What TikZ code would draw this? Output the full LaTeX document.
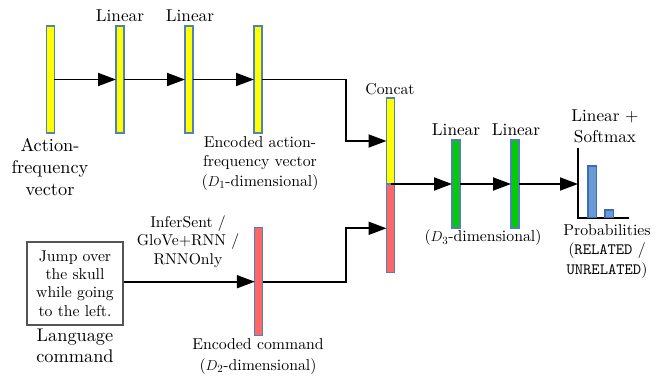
\documentclass[tikz,border=0pt]{standalone}
\usepackage{fontspec}
\setmainfont{lmroman10-regular.otf}[ItalicFont=lmroman10-italic.otf, BoldFont=lmroman10-bold.otf]
\setmonofont{lmmono10-regular.otf}
\usetikzlibrary{arrows.meta}
\definecolor{barborder}{HTML}{4F81BD}
\definecolor{ybarfill}{HTML}{FFFF00}
\definecolor{rbarfill}{HTML}{FF6666}
\definecolor{gbarfill}{HTML}{00CC00}
\definecolor{pbarfill}{HTML}{6A9AD6}
\definecolor{pbarborder}{HTML}{3C6EB4}
\definecolor{boxborder}{HTML}{555555}
\tikzset{
  vbar/.style={draw=barborder, line width=1.2pt, minimum width=8pt, inner sep=0pt, outer sep=0pt},
  ybar/.style={vbar, fill=ybarfill},
  rbar/.style={vbar, fill=rbarfill},
  gbar/.style={vbar, fill=gbarfill},
  conn/.style={line width=1.8pt, -{Triangle[length=18pt,width=13pt]}},
  lbl/.style={align=center, inner sep=0pt, font=\fontsize{15.8}{19.5}\selectfont},
  biglbl/.style={align=center, inner sep=0pt, font=\fontsize{18.3}{22}\selectfont},
  linlbl/.style={align=center, inner sep=0pt, font=\fontsize{17.2}{21}\selectfont},
}
\begin{document}
\begin{tikzpicture}[x=1pt,y=-1pt]
\useasboundingbox (0,0) rectangle (663,377);
% top row bars
\node[ybar, minimum height=107pt] (b1) at (50.3,79.5) {};
\node[ybar, minimum height=107pt] (b2) at (120,79.5) {};
\node[ybar, minimum height=107pt] (b3) at (189,79.5) {};
\node[ybar, minimum height=107pt] (b4) at (258,79.5) {};
% concat
\node[ybar, minimum height=86pt] (cy) at (390.5,141) {};
\node[rbar, minimum height=88.5pt] (cr) at (390.5,228.3) {};
% encoded command
\node[rbar, minimum height=108pt] (rb) at (258.8,281.7) {};
% green bars
\node[gbar, minimum height=88pt] (g1) at (456,184) {};
\node[gbar, minimum height=88pt] (g2) at (515,184) {};
% language box
\node[draw=boxborder, line width=2.6pt, minimum width=96pt, minimum height=83pt, inner sep=2pt, align=center,
      font=\fontsize{15.7}{18.4}\selectfont] (box) at (75,283.4)
  {Jump over\\the skull\\while going\\to the left.};
% chart
\coordinate (ax) at (578,184);
\draw[line width=1.8pt] (578,148) coordinate (axtop) -- (578,217.7) coordinate (axo) -- (629,217.7) coordinate (axr);
\draw[draw=pbarborder, fill=pbarfill, line width=1.1pt] (588,217.7) rectangle (596.7,166);
\draw[draw=pbarborder, fill=pbarfill, line width=1.1pt] (605,217.7) rectangle (613.7,210);
% connectors
\draw[conn] (b1.east) -- (b2.west);
\draw[conn] (b2.east) -- (b3.west);
\draw[conn] (b3.east) -- (b4.west);
\draw[conn] (b4.east) -- (346,79.5) -- (346,141) -- (cy.west);
\draw[conn] (rb.east) -- (346,281.7) -- (346,228.3) -- (cr.west);
\draw[conn] (box.east |- rb.west) -- (rb.west);
\draw[conn] (cy.south) -- (g1.west);
\draw[conn] (g1.east) -- (g2.west);
\draw[conn] (g2.east) -- (ax);
% labels
\node[linlbl] (l2) at (120,16) {Linear};
\node[linlbl] (l3) at (190,16) {Linear};
\node[biglbl] (afv) at (50,167) {Action-\\frequency\\vector};
\node[lbl] (eafv) at (260,163) {Encoded action-\\frequency vector\\($D_1$-dimensional)};
\node[lbl] (concat) at (390,89) {Concat};
\node[linlbl] (lg1) at (456,130) {Linear};
\node[linlbl] (lg2) at (516,130) {Linear};
\node[lbl] (d3) at (483,238) {($D_3$-dimensional)};
\node[linlbl] (lsm) at (605,126.5) {Linear +\\Softmax};
\node[lbl] (prob) at (607,251) {Probabilities\\(\texttt{RELATED} /\\\texttt{UNRELATED})};
\node[lbl, font=\fontsize{15.7}{18.4}\selectfont] (enc) at (188,241.5) {InferSent /\\GloVe+RNN /\\RNNOnly};
\node[biglbl, font=\fontsize{18.3}{20.7}\selectfont] (lc) at (75,346) {Language\\command};
\node[lbl, font=\fontsize{15.8}{21}\selectfont] (ec) at (258,356) {Encoded command\\($D_2$-dimensional)};
\end{tikzpicture}
\end{document}
